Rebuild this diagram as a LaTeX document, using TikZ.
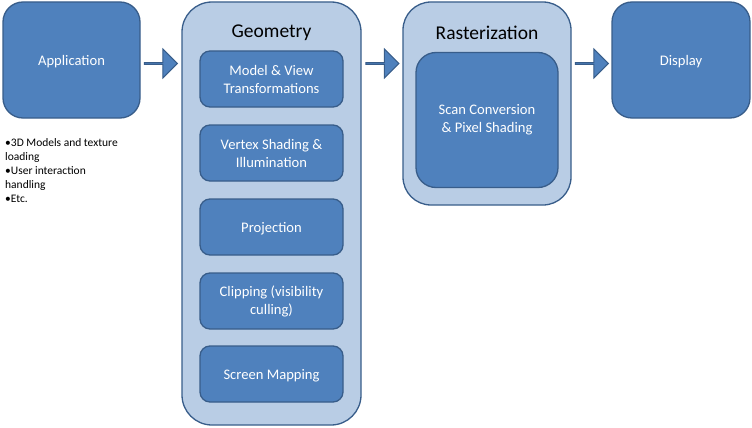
\documentclass[tikz,border=0pt]{standalone}
\usepackage{fontspec}
\setmainfont{Carlito}
\usetikzlibrary{shapes.arrows}
\definecolor{dark}{HTML}{4F81BD}
\definecolor{edge}{HTML}{385D8A}
\definecolor{light}{HTML}{B9CDE5}
\tikzset{
  darkbox/.style={draw=edge, line width=1.3pt, fill=dark, text=white, rounded corners=#1, align=center, inner sep=0pt, font=\fontsize{14.6}{18}\selectfont},
  darkbox/.default=10pt,
  oneline/.style={text height=13pt, text depth=2pt},
  lightbox/.style={draw=edge, line width=1.3pt, fill=light, rounded corners=#1, inner sep=0pt},
  title/.style={font=\fontsize{19.5}{22}\selectfont, text=black},
  blockarrow/.style={single arrow, draw=edge, line width=1pt, fill=dark, minimum height=33pt, minimum width=29pt, single arrow head extend=8.5pt, single arrow tip angle=90, inner sep=0pt},
}
\begin{document}
\begin{tikzpicture}[x=1pt,y=-1pt]
\useasboundingbox (0,0) rectangle (752,428);
% outer boxes
\node[darkbox=20pt, oneline, minimum width=137pt, minimum height=116pt] (app) at (71.5,60) {Application};
\node[lightbox=30pt, minimum width=179pt, minimum height=423pt] (geo) at (271.5,213.5) {};
\node[lightbox=28pt, minimum width=168pt, minimum height=203pt] (ras) at (487,103.5) {};
\node[darkbox=20pt, oneline, minimum width=138pt, minimum height=116pt] (disp) at (681,60) {Display};
% titles
\node[title] (geot) at (271.5,32.5) {Geometry};
\node[title] (rast) at (487,32.5) {Rasterization};
% geometry stages
\node[darkbox, minimum width=143pt, minimum height=56pt] (g1) at (271.5,79) {Model \& View\\Transformations};
\node[darkbox, minimum width=143pt, minimum height=56pt] (g2) at (271.5,153) {Vertex Shading \&\\Illumination};
\node[darkbox, oneline, minimum width=143pt, minimum height=56pt] (g3) at (271.5,227) {Projection};
\node[darkbox, minimum width=143pt, minimum height=56pt] (g4) at (271.5,301) {Clipping (visibility\\culling)};
\node[darkbox, oneline, minimum width=143pt, minimum height=56pt] (g5) at (271.5,374) {Screen Mapping};
% rasterization stage
\node[darkbox=20pt, minimum width=142pt, minimum height=135pt] (r1) at (487,120) {Scan Conversion\\\& Pixel Shading};
% arrows
\node[blockarrow] (a1) at (160.5,63.5) {};
\node[blockarrow] (a2) at (382,63.5) {};
\node[blockarrow] (a3) at (591.5,63.5) {};
% notes
\node[anchor=north west, align=left, inner sep=0pt, font=\fontsize{11.5}{14}\selectfont] (notes) at (5,138) {•3D Models and texture\\loading\\•User interaction\\handling\\•Etc.};
\end{tikzpicture}
\end{document}
